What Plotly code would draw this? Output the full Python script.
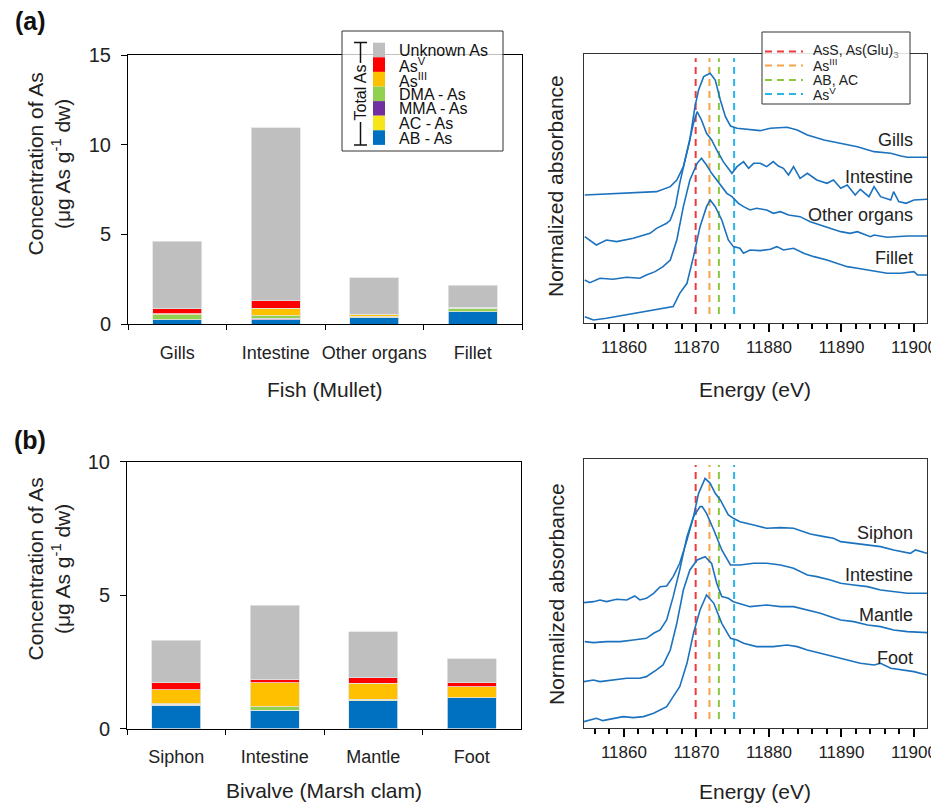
import plotly.graph_objects as go

# ---------------- data ----------------
fish_parts = ["Gills", "Intestine", "Other organs", "Fillet"]
fish_AB = [0.25, 0.24, 0.35, 0.69]
fish_AC = [0.00, 0.00, 0.00, 0.00]
fish_MMA = [0.00, 0.09, 0.00, 0.00]
fish_DMA = [0.26, 0.13, 0.07, 0.19]
fish_AsIII = [0.07, 0.43, 0.13, 0.06]
fish_AsV = [0.28, 0.41, 0.00, 0.00]
fish_unknown = [3.75, 9.64, 2.02, 1.21]

clam_parts = ["Siphon", "Intestine", "Mantle", "Foot"]
clam_AB = [0.88, 0.69, 1.04, 1.16]
clam_AC = [0.02, 0.00, 0.06, 0.00]
clam_MMA = [0.00, 0.00, 0.00, 0.00]
clam_DMA = [0.02, 0.12, 0.00, 0.00]
clam_AsIII = [0.54, 0.90, 0.60, 0.40]
clam_AsV = [0.25, 0.11, 0.20, 0.15]
clam_unknown = [1.60, 2.80, 1.72, 0.91]

species_names = ["AB - As", "AC - As", "MMA - As", "DMA - As", "As<sup>III</sup>", "As<sup>V</sup>", "Unknown As"]
species_colors = ["#0070C0", "#F5E61C", "#7030A0", "#92D050", "#FFC000", "#FF0000", "#BFBFBF"]

ref_names = ["AsS, As(Glu)<sub><span style='color:#888'>3</span></sub>", "As<sup>III</sup>", "AB, AC", "As<sup>V</sup>"]
ref_energies = [11869.9, 11871.8, 11873.1, 11875.2]
ref_colors = ["#F0393C", "#F7A348", "#8DC63F", "#29B5E8"]

# XANES spectra (offset stacked, arbitrary units) -- fish
gills_E = [11854.6, 11856.7, 11859.0, 11861.3, 11863.1, 11864.5, 11866.4, 11867.3, 11868.2, 11869.1,
           11869.8, 11870.3, 11871.0, 11871.9, 11872.6, 11873.3, 11874.0, 11874.7, 11875.6, 11877.0,
           11878.8, 11880.2, 11882.5, 11883.9, 11885.3, 11887.6, 11889.9, 11892.2, 11894.5, 11896.8,
           11898.2, 11899.1, 11901.8]
gills_A = [3.85, 3.87, 3.88, 3.90, 3.92, 3.95, 4.10, 4.30, 4.70, 5.50,
           6.50, 7.00, 7.40, 7.50, 7.30, 6.70, 6.20, 5.92, 5.85, 5.82,
           5.78, 5.85, 5.88, 5.80, 5.65, 5.50, 5.40, 5.30, 5.15, 5.10,
           5.02, 4.98, 4.98]

fint_E = [11854.6, 11855.3, 11856.2, 11857.6, 11859.0, 11861.3, 11862.2, 11863.6, 11864.5, 11865.9,
          11866.4, 11867.1, 11867.7, 11868.7, 11869.6, 11870.1, 11870.7, 11871.4, 11872.1, 11872.8,
          11873.7, 11874.9, 11875.6, 11876.5, 11877.2, 11877.9, 11878.8, 11879.7, 11880.6, 11881.3,
          11882.0, 11882.7, 11883.4, 11884.3, 11885.3, 11886.6, 11888.0, 11888.9, 11889.9, 11890.8,
          11891.9, 11892.6, 11893.8, 11894.5, 11895.4, 11896.8, 11897.2, 11897.9, 11898.9, 11900.0,
          11901.8]
fint_A = [2.60, 2.50, 2.35, 2.50, 2.45, 2.55, 2.60, 2.70, 2.85, 3.00,
          3.10, 3.50, 4.20, 5.20, 6.00, 6.35, 6.10, 5.70, 5.50, 5.20,
          4.85, 4.50, 4.70, 4.85, 4.65, 4.80, 4.80, 4.70, 4.85, 4.72,
          4.65, 4.45, 4.70, 4.35, 4.50, 4.30, 4.20, 4.30, 4.05, 4.15,
          3.85, 4.02, 3.80, 4.10, 3.80, 3.70, 3.95, 3.65, 3.60, 3.70,
          3.72]

other_E = [11854.6, 11855.3, 11856.7, 11858.5, 11860.4, 11862.2, 11863.1, 11864.3, 11865.4, 11866.4,
           11867.3, 11868.2, 11869.1, 11870.1, 11870.7, 11871.4, 11872.1, 11872.8, 11873.5, 11874.2,
           11874.9, 11875.8, 11876.5, 11877.4, 11878.3, 11879.7, 11880.6, 11881.6, 11882.7, 11884.3,
           11885.7, 11887.1, 11888.5, 11889.9, 11891.2, 11892.2, 11894.0, 11894.5, 11896.3, 11898.2,
           11899.1, 11901.8]
other_A = [1.30, 1.22, 1.35, 1.32, 1.38, 1.35, 1.45, 1.55, 1.70, 1.90,
           2.50, 3.50, 4.30, 4.80, 4.95, 4.75, 4.50, 4.30, 4.10, 3.90,
           3.80, 3.60, 3.50, 3.40, 3.45, 3.40, 3.30, 3.35, 3.25, 3.20,
           3.05, 2.95, 2.85, 2.75, 2.70, 2.75, 2.60, 2.65, 2.58, 2.60,
           2.62, 2.62]

fillet_E = [11854.6, 11855.8, 11857.6, 11859.5, 11861.3, 11862.7, 11864.1, 11865.4, 11866.8, 11867.7,
            11868.7, 11869.6, 11870.5, 11871.4, 11871.9, 11872.6, 11873.5, 11874.4, 11875.1, 11876.0,
            11876.5, 11877.4, 11878.8, 11880.2, 11881.1, 11882.0, 11883.4, 11884.8, 11886.2, 11888.0,
            11889.4, 11890.8, 11892.2, 11893.6, 11894.9, 11896.3, 11898.2, 11900.0, 11900.5, 11901.8]
fillet_A = [0.20, 0.10, 0.15, 0.22, 0.30, 0.35, 0.40, 0.45, 0.50, 0.90,
            1.20, 2.00, 2.90, 3.50, 3.70, 3.50, 3.10, 2.50, 2.30, 2.25,
            2.10, 2.20, 2.18, 2.22, 2.30, 2.20, 2.25, 2.10, 2.00, 1.90,
            1.80, 1.70, 1.65, 1.60, 1.55, 1.50, 1.50, 1.55, 1.45, 1.45]

# XANES spectra -- marsh clam
siphon_E = [11854.5, 11855.8, 11856.7, 11857.6, 11859.0, 11860.4, 11861.5, 11862.2, 11863.1, 11864.1,
            11865.0, 11865.9, 11866.8, 11867.7, 11868.7, 11869.6, 11870.3, 11871.0, 11871.2, 11871.9,
            11872.6, 11873.3, 11874.0, 11874.4, 11875.1, 11876.0, 11877.9, 11879.7, 11881.6, 11883.4,
            11884.8, 11885.7, 11887.6, 11888.9, 11889.9, 11891.7, 11893.6, 11895.4, 11897.2, 11898.6,
            11899.5, 11900.2, 11901.8]
siphon_A = [3.77, 3.80, 3.85, 3.80, 3.87, 3.85, 3.97, 3.85, 3.90, 4.05,
            4.25, 4.27, 4.55, 4.95, 5.65, 6.35, 7.05, 7.40, 7.50, 7.35,
            7.05, 6.85, 6.55, 6.40, 6.30, 6.20, 6.10, 6.00, 6.02, 6.00,
            5.90, 5.83, 5.75, 5.70, 5.60, 5.55, 5.50, 5.45, 5.35, 5.30,
            5.25, 5.35, 5.25]

cint_E = [11854.6, 11855.8, 11857.6, 11859.5, 11861.3, 11863.1, 11864.1, 11865.0, 11865.9, 11866.8,
          11867.7, 11868.7, 11869.6, 11870.5, 11870.8, 11871.4, 11872.4, 11873.5, 11874.7, 11876.0,
          11877.9, 11879.7, 11881.6, 11883.4, 11885.3, 11886.6, 11888.5, 11889.9, 11891.7, 11893.6,
          11895.4, 11897.2, 11899.1, 11901.8]
cint_A = [2.60, 2.57, 2.60, 2.60, 2.65, 2.70, 2.85, 2.95, 3.25, 3.95,
          4.75, 5.75, 6.35, 6.65, 6.65, 6.45, 5.95, 5.35, 4.90, 4.90,
          4.95, 4.95, 4.90, 4.80, 4.60, 4.55, 4.45, 4.35, 4.30, 4.25,
          4.15, 4.10, 4.05, 4.05]

mantle_E = [11854.5, 11855.8, 11856.7, 11858.5, 11860.4, 11862.2, 11863.1, 11864.5, 11865.4, 11866.4,
            11867.3, 11868.2, 11869.1, 11870.1, 11871.2, 11872.1, 11872.8, 11873.5, 11874.4, 11875.1,
            11876.0, 11877.4, 11879.7, 11881.6, 11883.4, 11885.3, 11887.1, 11888.5, 11889.9, 11891.7,
            11893.6, 11895.4, 11897.2, 11899.1, 11901.8]
mantle_A = [1.40, 1.45, 1.40, 1.45, 1.50, 1.50, 1.55, 1.75, 1.90, 2.35,
            3.15, 4.15, 4.75, 5.05, 5.15, 4.95, 4.35, 3.95, 3.90, 3.80,
            3.75, 3.65, 3.70, 3.65, 3.65, 3.55, 3.45, 3.35, 3.25, 3.20,
            3.10, 3.05, 2.95, 2.90, 2.87]

foot_E = [11854.5, 11856.2, 11857.1, 11858.5, 11859.9, 11861.3, 11862.7, 11864.1, 11865.9, 11866.8,
          11867.7, 11868.7, 11869.6, 11870.5, 11871.4, 11872.4, 11873.5, 11874.7, 11875.6, 11876.5,
          11878.3, 11880.6, 11882.5, 11883.9, 11885.3, 11887.1, 11888.9, 11890.8, 11892.6, 11894.5,
          11895.4, 11896.8, 11898.2, 11900.0, 11901.8]
foot_A = [0.20, 0.30, 0.23, 0.30, 0.35, 0.32, 0.35, 0.45, 0.65, 0.95,
          1.25, 1.95, 2.85, 3.55, 4.00, 3.75, 3.15, 2.70, 2.65, 2.55,
          2.45, 2.45, 2.50, 2.45, 2.35, 2.25, 2.15, 2.05, 1.95, 1.90,
          1.95, 1.80, 1.75, 1.70, 1.60]

fish_spectra = [("Gills", gills_E, gills_A), ("Intestine", fint_E, fint_A),
                ("Other organs", other_E, other_A), ("Fillet", fillet_E, fillet_A)]
clam_spectra = [("Siphon", siphon_E, siphon_A), ("Intestine", cint_E, cint_A),
                ("Mantle", mantle_E, mantle_A), ("Foot", foot_E, foot_A)]

# ---------------- figure ----------------
# The page body adds an 8 px margin, so the figure is made 8 px smaller and
# all positions below are given in window pixels.
OFF = 8
W, H = 939 - OFF, 803 - OFF
FONT = "Liberation Sans, Arial, sans-serif"
def px(x): return (x - OFF) / W
def py(y): return 1 - (y - OFF) / H

fig = go.Figure()

fish_stack = [fish_AB, fish_AC, fish_MMA, fish_DMA, fish_AsIII, fish_AsV, fish_unknown]
clam_stack = [clam_AB, clam_AC, clam_MMA, clam_DMA, clam_AsIII, clam_AsV, clam_unknown]
for vals, name, col in zip(fish_stack, species_names, species_colors):
    fig.add_trace(go.Bar(x=fish_parts, y=vals, name=name, marker=dict(color=col, line=dict(color="#E4E4E4", width=0.8)),
                         xaxis="x", yaxis="y", showlegend=False))
for vals, name, col in zip(clam_stack, species_names, species_colors):
    fig.add_trace(go.Bar(x=clam_parts, y=vals, name=name, marker=dict(color=col, line=dict(color="#E4E4E4", width=0.8)),
                         xaxis="x3", yaxis="y3", showlegend=False))

LINE_BLUE = "#1B72BE"
for (xa, ya, spectra, ytop) in [("x2", "y2", fish_spectra, 7.95), ("x4", "y4", clam_spectra, 7.9)]:
    for e, c in zip(ref_energies, ref_colors):
        fig.add_trace(go.Scatter(x=[e, e], y=[0.28, ytop], mode="lines",
                                 line=dict(color=c, width=2, dash="7px,5px"),
                                 xaxis=xa, yaxis=ya, showlegend=False, hoverinfo="skip"))
    for name, E, A in spectra:
        fig.add_trace(go.Scatter(x=E, y=A, mode="lines", name=name,
                                 line=dict(color=LINE_BLUE, width=1.6),
                                 xaxis=xa, yaxis=ya, showlegend=False))

bar_x_common = dict(type="category", showline=True, linecolor="#000", linewidth=1, mirror=True,
                    ticks="outside", tickson="boundaries", ticklen=5, tickcolor="#000", tickangle=0,
                    tickfont=dict(size=18, color="#222"), ticklabelstandoff=12, automargin=False)
bar_y_common = dict(showline=True, linecolor="#000", linewidth=1, mirror=True, ticks="outside",
                    ticklen=6, tickcolor="#000", showgrid=False, zeroline=False, automargin=False,
                    ticklabelstandoff=6, tickfont=dict(size=20, color="#222"))
xan_x_common = dict(range=[11854.5, 11901.8], tick0=11860, dtick=10, tickformat="d", showline=True,
                    linecolor="#333", linewidth=1, mirror=True, ticks="outside", ticklen=8, tickwidth=1.5,
                    tickcolor="#000", showgrid=False, zeroline=False, automargin=False,
                    tickfont=dict(size=17, color="#222"),
                    minor=dict(dtick=2, tick0=11860, ticks="outside", ticklen=5, tickwidth=1.5,
                               tickcolor="#000", showgrid=False))
xan_y_common = dict(range=[0, 8.08], showline=True, linecolor="#333", linewidth=1, mirror=True,
                    showticklabels=False, ticks="", showgrid=False, zeroline=False, automargin=False)

fig.update_layout(
    width=W, height=H, margin=dict(l=0, r=0, t=0, b=0, autoexpand=False),
    paper_bgcolor="white", plot_bgcolor="white",
    font=dict(family=FONT, color="#222"),
    barmode="stack", bargap=0.5, showlegend=False,
    xaxis=dict(domain=[px(128), px(522)], anchor="y", **bar_x_common),
    yaxis=dict(domain=[py(324), py(55)], anchor="x", range=[0, 15], tickvals=[0, 5, 10, 15], **bar_y_common),
    xaxis2=dict(domain=[px(584), px(927)], anchor="y2", **xan_x_common),
    yaxis2=dict(domain=[py(323.3), py(54)], anchor="x2", **xan_y_common),
    xaxis3=dict(domain=[px(127), px(521)], anchor="y3", **bar_x_common),
    yaxis3=dict(domain=[py(728.5), py(461.7)], anchor="x3", range=[0, 10], tickvals=[0, 5, 10], **bar_y_common),
    xaxis4=dict(domain=[px(584), px(927)], anchor="y4", **xan_x_common),
    yaxis4=dict(domain=[py(728.3), py(459)], anchor="x4", **xan_y_common),
)

ann = []
def A(text, x, y, size=20, xanchor="center", yanchor="middle", angle=0, bold=False, color="#222", **kw):
    t = f"<b>{text}</b>" if bold else text
    ann.append(dict(text=t, x=px(x), y=py(y), xref="paper", yref="paper", showarrow=False,
                    xanchor=xanchor, yanchor=yanchor, textangle=angle,
                    font=dict(size=size, family=FONT, color=color), **kw))

A("(a)", 30, 21, size=25, bold=True, color="#111")
A("(b)", 30, 440, size=25, bold=True, color="#111")
for yc in (164, 569):
    A("Concentration of As<br>(μg As g<sup>-1</sup> dw)", 48.5, yc, size=21, angle=-90)
A("Normalized absorbance", 556, 186, size=21, angle=-90)
A("Normalized absorbance", 556, 594, size=21, angle=-90)
A("Fish (Mullet)", 325, 389, size=21)
A("Bivalve (Marsh clam)", 324, 790, size=21)
A("Energy (eV)", 755, 389, size=21)
A("Energy (eV)", 755, 791, size=21)

for (name, _, _), yc in zip(fish_spectra, [140, 177, 215, 258]):
    A(name, 915, yc, size=18, xanchor="right")
for (name, _, _), yc in zip(clam_spectra, [533, 575, 615, 658]):
    A(name, 915, yc, size=18, xanchor="right")

shapes = []
# Bar legend box
shapes.append(dict(type="rect", xref="paper", yref="paper", x0=px(342), x1=px(503), y0=py(151), y1=py(31),
                   line=dict(color="#333", width=1), fillcolor="rgba(255,255,255,0.75)", layer="above"))
sw_top = 42.7
sw_h = 14.6
legend_order = list(range(len(species_names)))[::-1]  # Unknown at top
for i, k in enumerate(legend_order):
    y0 = sw_top + i * sw_h
    shapes.append(dict(type="rect", xref="paper", yref="paper", x0=px(373), x1=px(385),
                       y0=py(y0 + sw_h), y1=py(y0), line=dict(width=0), fillcolor=species_colors[k], layer="above"))
    A(species_names[k], 397, y0 + sw_h / 2 + 0.5, size=16, xanchor="left", color="#111")
# Total As bracket
shapes.append(dict(type="line", xref="paper", yref="paper", x0=px(360.5), x1=px(360.5), y0=py(145), y1=py(42.5),
                   line=dict(color="#111", width=1.5), layer="above"))
for yy in (42.5, 145):
    shapes.append(dict(type="line", xref="paper", yref="paper", x0=px(354), x1=px(367), y0=py(yy), y1=py(yy),
                       line=dict(color="#111", width=1.5), layer="above"))
A("Total As", 360.5, 93, size=16, angle=-90, color="#111", bgcolor="white")

# XANES legend box
shapes.append(dict(type="rect", xref="paper", yref="paper", x0=px(762), x1=px(910), y0=py(104), y1=py(32),
                   line=dict(color="#333", width=1), fillcolor="rgba(255,255,255,0.85)", layer="above"))
for i, (nm, col) in enumerate(zip(ref_names, ref_colors)):
    yc = [51.5, 65.5, 80, 94][i]
    shapes.append(dict(type="line", xref="paper", yref="paper", x0=px(765), x1=px(803), y0=py(yc), y1=py(yc),
                       line=dict(color=col, width=2, dash="7px,5px"), layer="above"))
    A(nm, 811, yc, size=14, xanchor="left", color="#222")

fig.update_layout(annotations=ann, shapes=shapes)
fig.write_html("out.html")
